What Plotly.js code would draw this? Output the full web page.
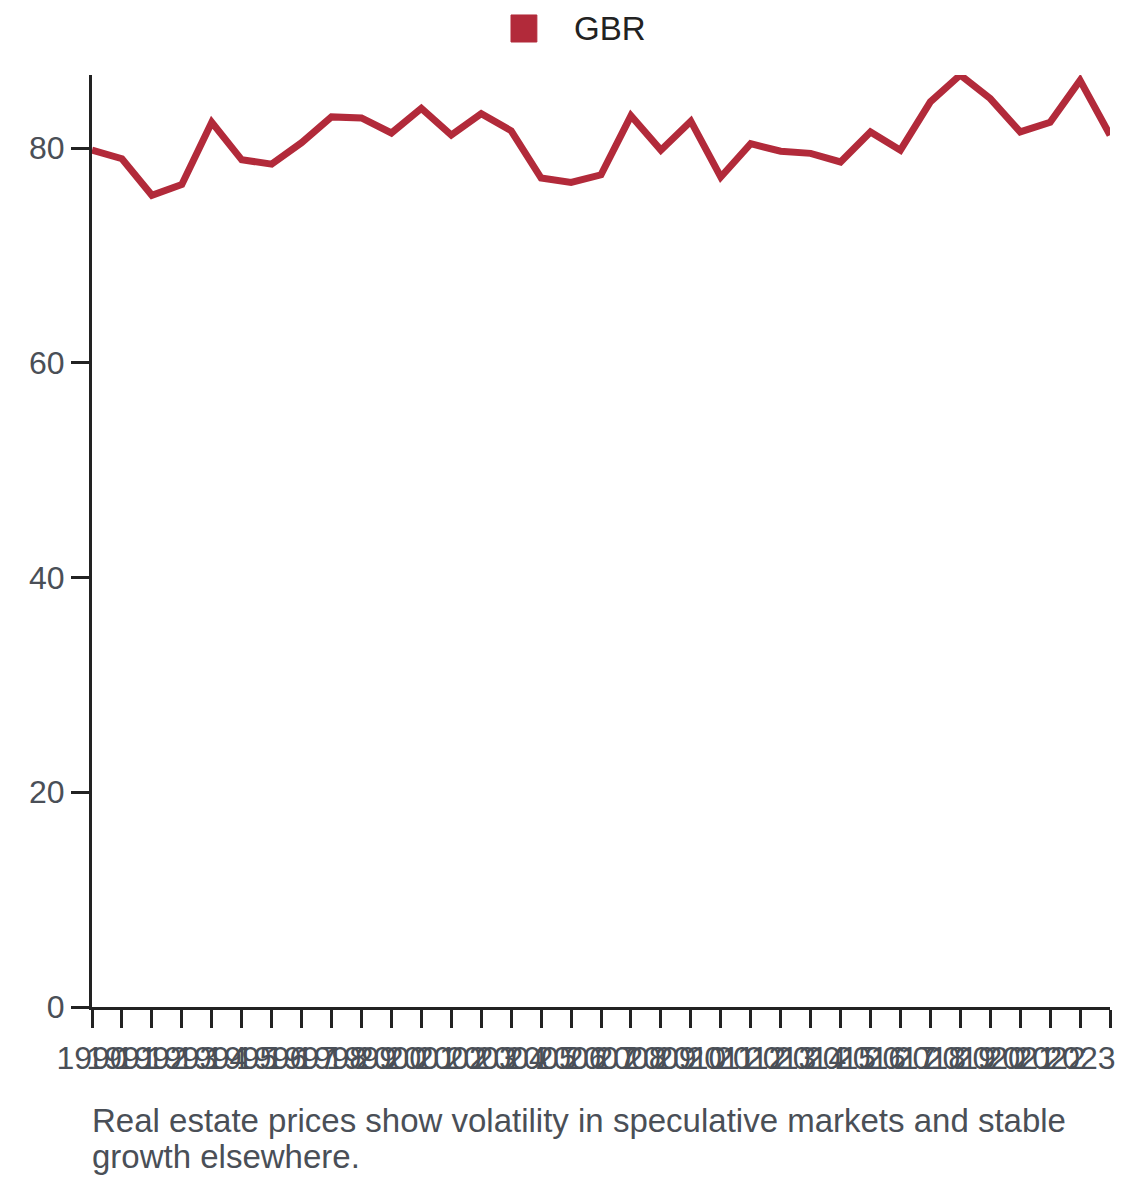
<!DOCTYPE html>
<html>
<head>
<meta charset="utf-8">
<script src="https://cdn.plot.ly/plotly-3.0.1.min.js"></script>
<style>html,body{margin:0;padding:0;background:#fff;}#chart{width:1140px;height:1182px;}</style>
</head>
<body>
<div id="chart"></div>
<script>
const years = [1990,1991,1992,1993,1994,1995,1996,1997,1998,1999,2000,2001,2002,2003,2004,2005,2006,2007,2008,2009,2010,2011,2012,2013,2014,2015,2016,2017,2018,2019,2020,2021,2022,2023,2024];
const gbr = [79.8,79.0,75.6,76.6,82.4,78.9,78.5,80.5,82.9,82.8,81.4,83.7,81.2,83.2,81.6,77.2,76.8,77.5,83.0,79.8,82.5,77.3,80.4,79.7,79.5,78.7,81.5,79.8,84.3,86.8,84.6,81.5,82.4,86.3,81.2];
const yTicks = [0,20,40,60,80];
const seriesName = "GBR";
const captionLines = ["Real estate prices show volatility in speculative markets and stable", "growth elsewhere."];

const lineColor = "#b22a3a";
const fontFam = "Liberation Sans, Arial, sans-serif";
const tickColor = "#4a4f57";

const trace = {
  x: years, y: gbr, type: "scatter", mode: "lines", name: seriesName,
  line: {color: lineColor, width: 7}, cliponaxis: false, showlegend: false, hoverinfo: "x+y"
};

const layout = {
  width: 1140, height: 1182,
  margin: {l: 92, r: 30, t: 75, b: 175},
  paper_bgcolor: "#fff", plot_bgcolor: "#fff",
  showlegend: false,
  font: {family: fontFam, size: 32, color: tickColor},
  xaxis: {
    type: "linear", range: [years[0], years[years.length-1]],
    tickmode: "array", tickvals: years, ticktext: years.map(String), tickangle: 0,
    ticks: "outside", ticklen: 18, tickwidth: 3, tickcolor: "#222",
    ticklabelstandoff: 3,
    showline: true, linewidth: 3, linecolor: "#222",
    showgrid: false, zeroline: false,
    tickfont: {family: fontFam, size: 32, color: tickColor}
  },
  yaxis: {
    range: [0, 86.8],
    tickmode: "array", tickvals: yTicks, ticktext: yTicks.map(String),
    ticks: "outside", ticklen: 18, tickwidth: 3, tickcolor: "#222",
    showline: true, linewidth: 3, linecolor: "#222",
    showgrid: false, zeroline: false,
    tickfont: {family: fontFam, size: 32, color: tickColor}
  },
  shapes: [{
    type: "rect", xref: "paper", yref: "paper",
    x0: 0.4116, x1: 0.437, y0: 1.0354, y1: 1.0644,
    fillcolor: lineColor, line: {color: lineColor, width: 1}
  }],
  annotations: [
    {text: seriesName, xref: "paper", yref: "paper", x: 0.4715, y: 1.0504,
     xanchor: "left", yanchor: "middle", showarrow: false,
     font: {family: fontFam, size: 33, color: "#222"}},
    {text: captionLines[0], xref: "paper", yref: "paper", x: -0.002, y: -0.1223,
     xanchor: "left", yanchor: "middle", align: "left", showarrow: false,
     font: {family: fontFam, size: 33, color: tickColor}},
    {text: captionLines[1], xref: "paper", yref: "paper", x: -0.002, y: -0.1599,
     xanchor: "left", yanchor: "middle", align: "left", showarrow: false,
     font: {family: fontFam, size: 33, color: tickColor}}
  ]
};

Plotly.newPlot("chart", [trace], layout, {displayModeBar: false, staticPlot: true});
</script>
</body>
</html>
